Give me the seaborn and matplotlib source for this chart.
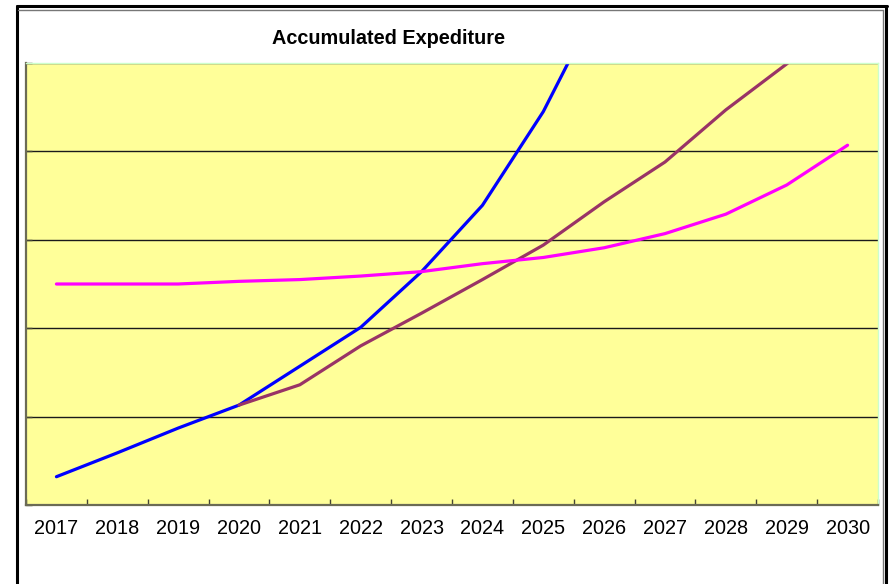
import pandas as pd
import matplotlib
matplotlib.use("Agg")
import matplotlib.pyplot as plt
from matplotlib.lines import Line2D
from matplotlib.ticker import FixedLocator, NullFormatter
import seaborn as sns

# values (units = one gridline step)
years = list(range(2017, 2031))
blue_years = [2017, 2018, 2019, 2020, 2021, 2022, 2023, 2024, 2025, 2026]
blue_vals = [0.32, 0.59, 0.87, 1.13, 1.57, 2.01, 2.64, 3.39, 4.45, 5.80]
purple_years = [2020, 2021, 2022, 2023, 2024, 2025, 2026, 2027, 2028, 2029, 2030]
purple_vals = [1.13, 1.36, 1.80, 2.17, 2.55, 2.94, 3.43, 3.88, 4.47, 4.99, 5.55]
pink_years = years
pink_vals = [2.50, 2.50, 2.50, 2.53, 2.55, 2.59, 2.64, 2.73, 2.80, 2.91, 3.07, 3.29, 3.62, 4.07]
series_colors = {"A": "#0000ff", "B": "#993366", "C": "#ff00ff"}

df = pd.concat([
    pd.DataFrame({"year": blue_years, "value": blue_vals, "series": "A"}),
    pd.DataFrame({"year": purple_years, "value": purple_vals, "series": "B"}),
    pd.DataFrame({"year": pink_years, "value": pink_vals, "series": "C"}),
])

sns.set_style("white")
plt.rcParams["font.family"] = ["Liberation Sans", "DejaVu Sans"]

W, H = 890, 584
fig = plt.figure(figsize=(W / 100, H / 100), dpi=100)
ax = fig.add_axes([26 / W, 1 - 505 / H, (878 - 26) / W, (505 - 63) / H])
ax.set_facecolor("#ffff99")

sns.lineplot(data=df, x="year", y="value", hue="series", palette=series_colors,
             linewidth=2.3, legend=False, ax=ax, sort=True, estimator=None)

ax.set_xlim(years[0] - 0.5, years[-1] + 0.5)
ax.set_ylim(0, 5)
ax.set_xlabel("")
ax.set_ylabel("")

# boundaries as tick marks, year labels centered in each slot
ax.xaxis.set_major_locator(FixedLocator([y - 0.5 for y in years] + [years[-1] + 0.5]))
ax.xaxis.set_major_formatter(NullFormatter())
ax.xaxis.set_minor_locator(FixedLocator(years))
ax.set_xticklabels([str(y) for y in years], minor=True)
ax.tick_params(axis="x", which="major", direction="in", length=4.5, width=1, color="#444433", bottom=True)
ax.tick_params(axis="x", which="minor", length=0, pad=10.3, labelsize=14.3, labelcolor="black", bottom=True)

ax.set_yticks([0, 1, 2, 3, 4, 5])
ax.set_yticklabels([])
ax.tick_params(axis="y", direction="in", length=4.5, width=1, color="#444433", left=True)
ax.yaxis.grid(True, color="#1a1a1a", linewidth=1.0)
ax.set_axisbelow(True)

for side in ["left", "bottom"]:
    ax.spines[side].set_color("#6b6b55")
    ax.spines[side].set_linewidth(1.6)
for side in ["top", "right"]:
    ax.spines[side].set_color("#ccffcc")
    ax.spines[side].set_linewidth(1.0)

fig.text(388 / W, 1 - 38 / H, "Accumulated Expediture", ha="center", va="center",
         fontsize=14.3, fontweight="bold", color="black")


def px(x, y):
    return x / W, 1 - y / H


# outer chart frame
frame = [((17, 6), (17, 600), "black", 2.2),
         ((17, 6), (887, 6), "black", 2.2),
         ((886, 6), (886, 600), "black", 2.2),
         ((18, 10), (883, 10), "#777777", 1.0),
         ((883, 10), (883, 600), "#777777", 1.0)]
for (x0, y0), (x1, y1), c, lw in frame:
    (fx0, fy0), (fx1, fy1) = px(x0, y0), px(x1, y1)
    fig.add_artist(Line2D([fx0, fx1], [fy0, fy1], color=c, linewidth=lw,
                          transform=fig.transFigure))

fig.savefig("out.png", dpi=100)
